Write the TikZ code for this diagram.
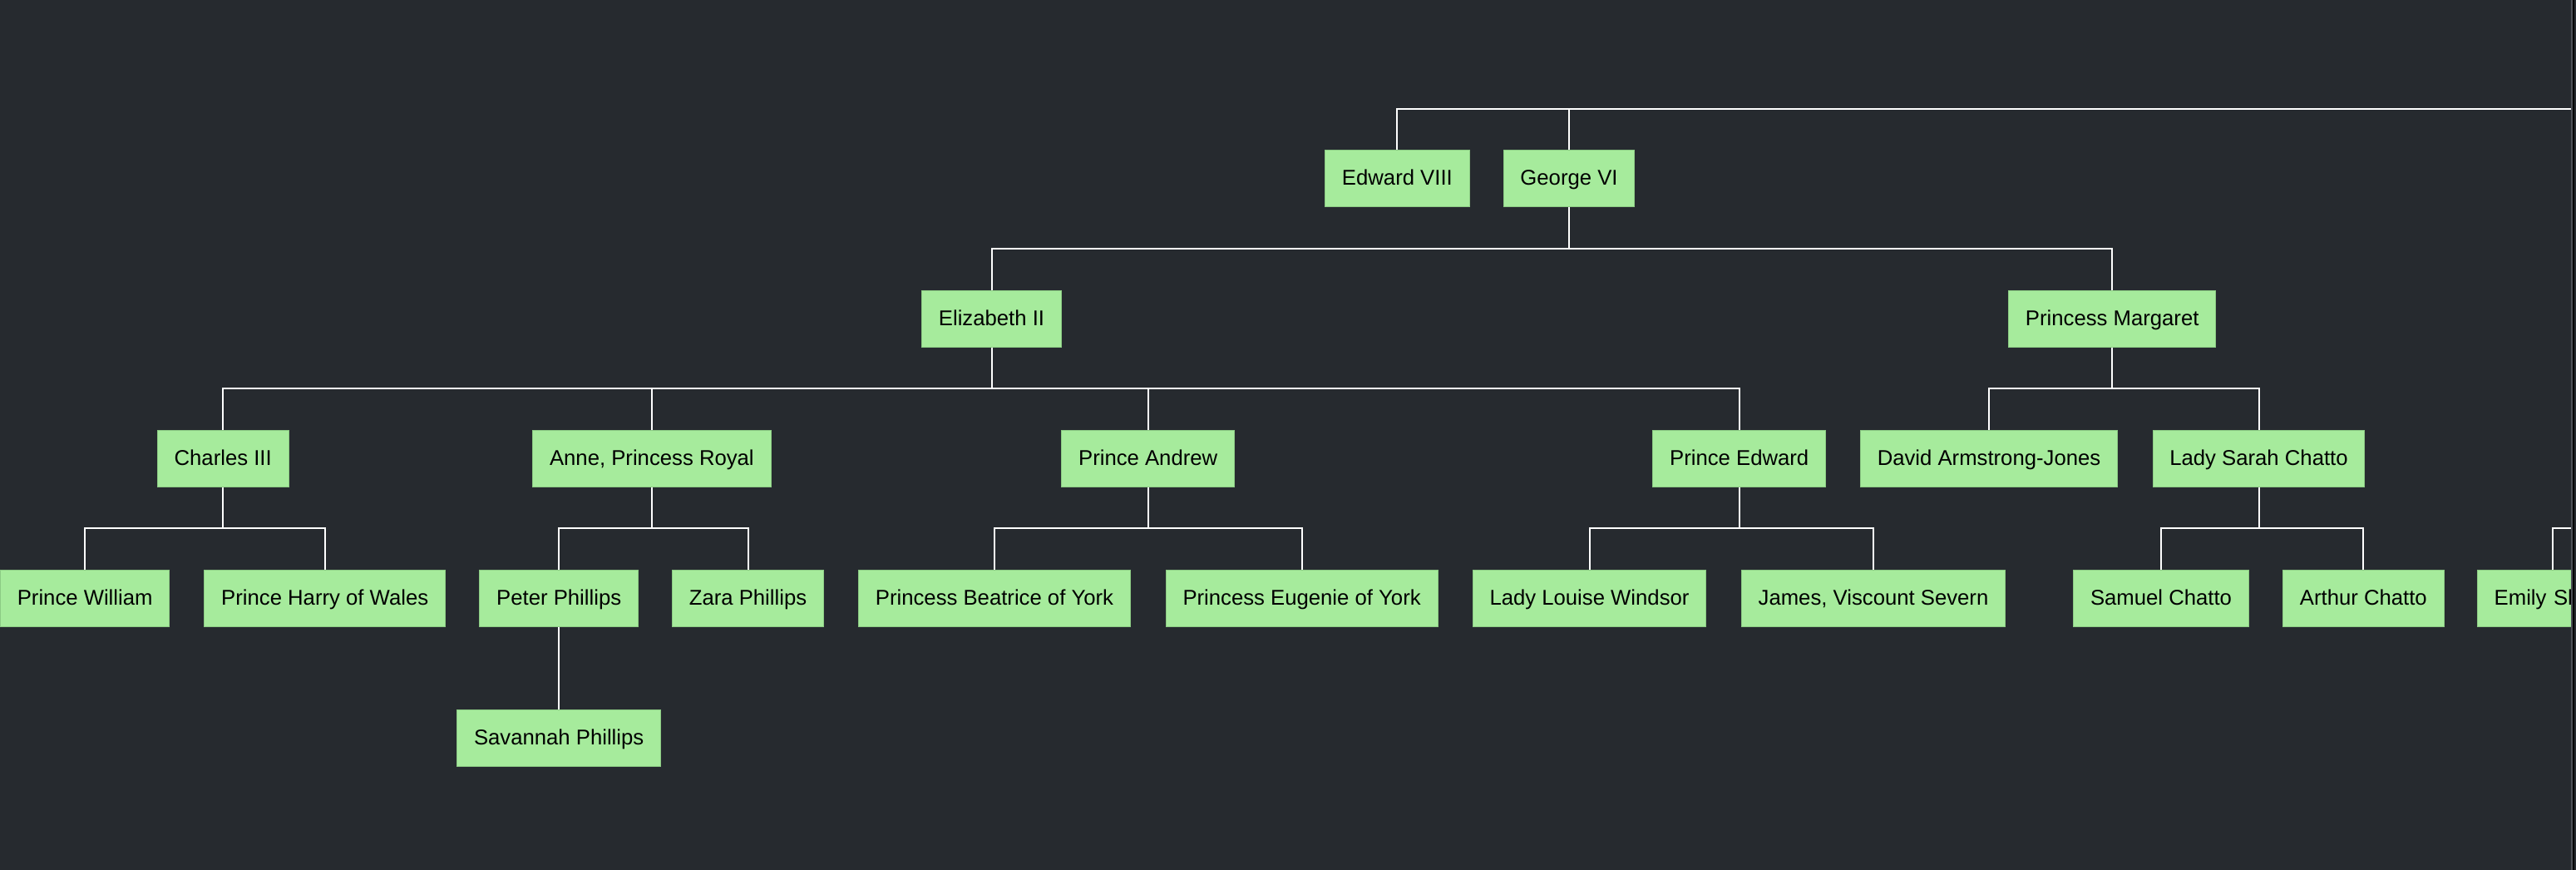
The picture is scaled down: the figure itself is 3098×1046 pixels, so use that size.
\documentclass[tikz,border=0pt]{standalone}
\usepackage{fontspec}
\setmainfont{Liberation Sans}
\definecolor{bgc}{HTML}{262A2F}
\definecolor{boxc}{HTML}{A6EB9C}
\definecolor{boxline}{HTML}{8CCB84}
\definecolor{barg}{HTML}{4D5057}
\tikzset{
  person/.style={rectangle, fill=boxc, draw=boxline, line width=1pt,
    minimum height=68pt, inner xsep=20.3pt, inner ysep=0pt,
    text height=20pt, text depth=3.4pt,
    font=\fontsize{25.7pt}{30pt}\selectfont, text=black},
  conn/.style={draw=white, line width=2pt},
}
\newcommand\familylink[2]{\draw[conn] (#1.south) -- ++(0,49.6) -| (#2.north);}
\begin{document}
\begin{tikzpicture}[x=1pt, y=-1pt]
\fill[bgc] (0,0) rectangle (3098,1046);
\useasboundingbox (0,0) rectangle (3098,1046);
\begin{scope}
\clip (0,0) rectangle (3092,1046);
% level 1
\node[person] (ed8) at (1680.4,214.5) {Edward VIII};
\node[person] (g6) at (1887,214.5) {George VI};
% level 2
\node[person] (eliz) at (1192.5,383) {Elizabeth II};
\node[person] (marg) at (2540.2,383) {Princess Margaret};
% level 3
\node[person] (charles) at (268.2,551) {Charles III};
\node[person] (anne) at (783.9,551) {Anne, Princess Royal};
\node[person] (andrew) at (1380.7,551) {Prince Andrew};
\node[person] (edward) at (2091.7,551) {Prince Edward};
\node[person] (david) at (2392,551) {David Armstrong-Jones};
\node[person] (sarah) at (2716.5,551) {Lady Sarah Chatto};
% level 4
\node[person] (william) at (102.2,719.3) {Prince William};
\node[person] (harry) at (390.7,719.3) {Prince Harry of Wales};
\node[person] (peter) at (672.2,719.3) {Peter Phillips};
\node[person] (zara) at (899.5,719.3) {Zara Phillips};
\node[person] (beatrice) at (1196,719.3) {Princess Beatrice of York};
\node[person] (eugenie) at (1565.6,719.3) {Princess Eugenie of York};
\node[person] (louise) at (1911.5,719.3) {Lady Louise Windsor};
\node[person] (james) at (2253,719.3) {James, Viscount Severn};
\node[person] (samuel) at (2599,719.3) {Samuel Chatto};
\node[person] (arthur) at (2842.3,719.3) {Arthur Chatto};
\node[person, text width=140pt, align=left] (emily) at (3069.7,719.3) {Emily Sh};
% level 5
\node[person] (savannah) at (672.2,887.3) {Savannah Phillips};
% off-picture parents
\coordinate (offtop) at (3092,130.7);
\coordinate (offemily) at (3092,634.7);
% connectors
\draw[conn] (ed8.north) |- (offtop);
\draw[conn] (g6.north) |- (offtop);
\familylink{g6}{eliz}
\familylink{g6}{marg}
\familylink{eliz}{charles}
\familylink{eliz}{anne}
\familylink{eliz}{andrew}
\familylink{eliz}{edward}
\familylink{marg}{david}
\familylink{marg}{sarah}
\familylink{charles}{william}
\familylink{charles}{harry}
\familylink{anne}{peter}
\familylink{anne}{zara}
\familylink{andrew}{beatrice}
\familylink{andrew}{eugenie}
\familylink{edward}{louise}
\familylink{edward}{james}
\familylink{sarah}{samuel}
\familylink{sarah}{arthur}
\draw[conn] (peter.south) -- (savannah.north);
\draw[conn] (emily.north) |- (offemily);
\end{scope}
% right edge strips
\fill[barg] (3092,0) rectangle (3094.3,1046);
\fill[black] (3094.3,0) rectangle (3096,1046);
\end{tikzpicture}
\end{document}
